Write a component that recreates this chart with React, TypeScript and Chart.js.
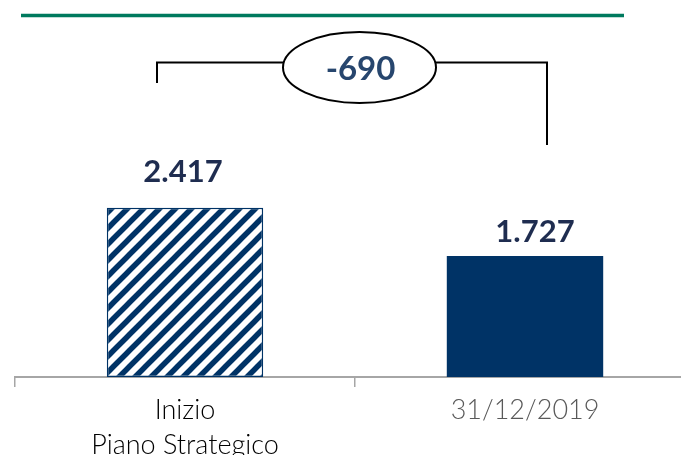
import React, { useEffect, useRef } from "react";
import { Chart, registerables } from "chart.js";

Chart.register(...registerables);

const categories: (string | string[])[] = [["Inizio", "Piano Strategico"], "31/12/2019"];
const values = [2417, 1727];
const tickColors = ["#000000", "#595959"];
const navy = "#003366";

function fmt(n: number): string {
  const s = Math.abs(n).toString().replace(/\B(?=(\d{3})+(?!\d))/g, ".");
  return (n < 0 ? "-" : "") + s;
}

function makePattern(): CanvasPattern | string {
  const size = 16;
  const c = document.createElement("canvas");
  c.width = size;
  c.height = size;
  const g = c.getContext("2d");
  if (!g) return navy;
  g.fillStyle = "#ffffff";
  g.fillRect(0, 0, size, size);
  g.strokeStyle = navy;
  g.lineWidth = 5.5;
  g.beginPath();
  g.moveTo(-size, size * 2);
  g.lineTo(size * 2, -size);
  g.moveTo(-size, size);
  g.lineTo(size, -size);
  g.moveTo(0, size * 2);
  g.lineTo(size * 2, 0);
  g.stroke();
  const p = g.createPattern(c, "repeat");
  return p || navy;
}

const annotations = {
  id: "annotations",
  afterDatasetsDraw(chart: any) {
    const ctx = chart.ctx as CanvasRenderingContext2D;
    const bars = chart.getDatasetMeta(0).data;
    const offsets = [26, 14];
    const xShift = [-2, 10];
    ctx.save();
    // top green rule
    ctx.strokeStyle = "#007A5E";
    ctx.lineWidth = 3.5;
    ctx.beginPath();
    ctx.moveTo(21, 15.5);
    ctx.lineTo(624, 15.5);
    ctx.stroke();

    // value labels
    ctx.fillStyle = "#1F2D50";
    ctx.font = "bold 31px Lato";
    ctx.textAlign = "center";
    ctx.textBaseline = "alphabetic";
    bars.forEach((b: any, i: number) => {
      ctx.fillText(fmt(values[i]), b.x + xShift[i], b.y - offsets[i]);
    });

    // bracket
    const lx = bars[0].x - 28;
    const rx = bars[1].x + 22;
    const ly = 62.5;
    const ecx = 359.5;
    const ecy = 67.5;
    const erx = 76.5;
    const ery = 35.5;
    ctx.strokeStyle = "#000000";
    ctx.lineWidth = 2;
    ctx.beginPath();
    ctx.moveTo(lx, 83);
    ctx.lineTo(lx, ly);
    ctx.lineTo(ecx - erx + 1, ly);
    ctx.moveTo(ecx + erx - 1, ly);
    ctx.lineTo(rx, ly);
    ctx.lineTo(rx, 145);
    ctx.stroke();

    ctx.beginPath();
    ctx.ellipse(ecx, ecy, erx, ery, 0, 0, Math.PI * 2);
    ctx.fillStyle = "#ffffff";
    ctx.fill();
    ctx.stroke();

    ctx.fillStyle = "#27466E";
    ctx.font = "bold 33px Lato";
    ctx.textBaseline = "alphabetic";
    ctx.fillText(fmt(values[1] - values[0]), ecx + 1, 80);
    ctx.restore();
  },
};

export default function App() {
  const ref = useRef<HTMLCanvasElement | null>(null);
  useEffect(() => {
    if (!ref.current) return;
    const pattern = makePattern();
    const chart = new Chart(ref.current, {
      type: "bar",
      data: {
        labels: categories as any,
        datasets: [
          {
            data: values,
            backgroundColor: [pattern as any, navy],
            borderColor: [navy, navy],
            borderWidth: [1.5, 0] as any,
            borderSkipped: false,
            barPercentage: 0.46,
            categoryPercentage: 1,
          },
        ],
      },
      options: {
        responsive: false,
        animation: false,
        layout: { padding: { left: 15, right: 5, top: 167, bottom: 0 } },
        plugins: { legend: { display: false }, tooltip: { enabled: false } },
        scales: {
          x: {
            type: "category",
            offset: true,
            grid: {
              display: true,
              drawOnChartArea: false,
              drawTicks: true,
              tickLength: 10,
              color: "#A6A6A6",
              lineWidth: 1.5,
              offset: true,
            },
            border: { display: true, color: "#A6A6A6", width: 2 },
            ticks: {
              autoSkip: false,
              maxRotation: 0,
              padding: 6,
              font: { family: "Lato", size: 27, weight: "300" as any, lineHeight: 1.3 },
              color: (c: any) => tickColors[c.index] || "#000",
            },
            afterFit: (s: any) => {
              s.height = 78;
            },
          },
          y: { display: false, min: 0, max: 3000 },
        },
      },
      plugins: [annotations],
    });
    return () => chart.destroy();
  }, []);
  return (
    <div
      style={{
        position: "fixed",
        left: 0,
        top: 0,
        width: 681,
        height: 455,
        overflow: "hidden",
        background: "#ffffff",
      }}
    >
      <canvas ref={ref} width={700} height={455} style={{ width: 700, height: 455, display: "block" }} />
    </div>
  );
}
